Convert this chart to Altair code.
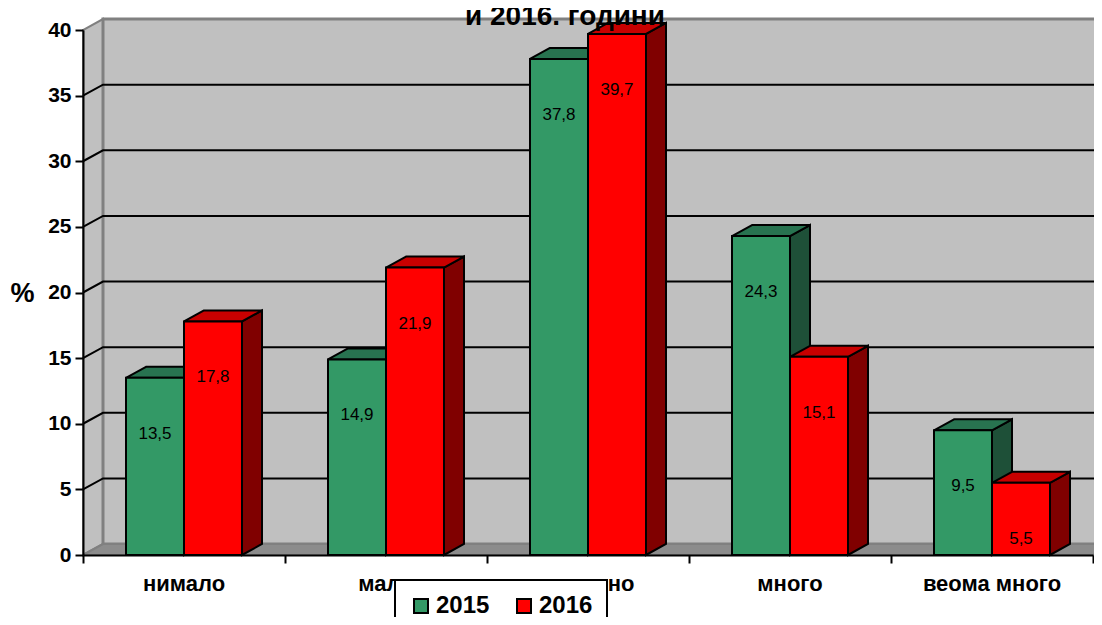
import altair as alt
import pandas as pd

# ---------------- data ----------------
categories = ["нимало", "мало", "умерено", "много", "веома много"]
years = ["2015", "2016"]
values_2015 = [13.5, 14.9, 37.8, 24.3, 9.5]
values_2016 = [17.8, 21.9, 39.7, 15.1, 5.5]
y_ticks = [0, 5, 10, 15, 20, 25, 30, 35, 40]
title_text = "и 2016. години"
y_title = "%"

# ---------------- style / layout ----------------
FONT = "Liberation Sans, Arial, sans-serif"
PLOT_W, PLOT_H = 1010, 525
N = len(categories)
Y_MAX = 40
px_x = PLOT_W / N
px_y = PLOT_H / Y_MAX
DEPTH_X = 20 / px_x          # 3D depth offset (x, in data units)
DEPTH_Y = 11 / px_y          # 3D depth offset (y, in data units)
BAR_W = 58 / px_x

FRONT = ["#339966", "#FF0000"]
SIDE = ["#1E5038", "#800000"]
TOP = ["#287350", "#C80000"]
WALL = "#C0C0C0"
WALL_EDGE = "#808080"
FLOOR = "#8C8C8C"

xs = alt.Scale(domain=[0, N], nice=False, zero=False)
ys = alt.Scale(domain=[0, Y_MAX], nice=False, zero=True)

x_axis = alt.Axis(values=list(range(N + 1)), labels=False, title=None, grid=False,
                  tickSize=8, tickWidth=2, tickColor="black",
                  domainColor="black", domainWidth=2, zindex=1)
y_axis = alt.Axis(values=y_ticks, title=y_title, titleAngle=0, titleX=-61, titleY=263,
                  titleAlign="center", titleBaseline="middle", titleFont=FONT,
                  titleFontSize=27, titleFontWeight="bold", titleColor="black",
                  labelFont=FONT, labelFontSize=21, labelFontWeight="bold",
                  labelColor="black", labelPadding=4, labelFlush=False,
                  tickSize=8, tickWidth=2, tickColor="black",
                  domainColor="black", domainWidth=2, grid=False, zindex=1)


def X(field):
    return alt.X(field, type="quantitative", scale=xs, axis=x_axis, stack=None)


def Y(field):
    return alt.Y(field, type="quantitative", scale=ys, axis=y_axis, stack=None)


# ---------------- walls, floor, gridlines ----------------
side_wall = pd.DataFrame([
    dict(x=0, y=0, y2=Y_MAX),
    dict(x=DEPTH_X, y=DEPTH_Y, y2=Y_MAX + DEPTH_Y),
])
back_wall = pd.DataFrame([dict(x=DEPTH_X, x2=N + DEPTH_X, y=DEPTH_Y, y2=Y_MAX + DEPTH_Y)])
floor = pd.DataFrame([
    dict(y=0, x=0, x2=N),
    dict(y=DEPTH_Y, x=DEPTH_X, x2=N + DEPTH_X),
])
grid_rows = []
for v in y_ticks[1:-1]:
    grid_rows += [dict(v=v, o=0, x=0, y=v),
                  dict(v=v, o=1, x=DEPTH_X, y=v + DEPTH_Y),
                  dict(v=v, o=2, x=N + DEPTH_X, y=v + DEPTH_Y)]
grid = pd.DataFrame(grid_rows)

layers = [
    alt.Chart(side_wall).mark_area(orient="vertical", fill=WALL, stroke=WALL_EDGE,
                                   strokeWidth=2).encode(x=X("x"), y=Y("y"), y2="y2"),
    alt.Chart(back_wall).mark_rect(fill=WALL, stroke=WALL_EDGE, strokeWidth=3).encode(
        x=X("x"), x2="x2", y=Y("y"), y2="y2"),
    alt.Chart(floor).mark_area(orient="horizontal", fill=FLOOR, stroke=WALL_EDGE,
                               strokeWidth=2).encode(y=Y("y"), x=X("x"), x2="x2"),
    alt.Chart(grid).mark_line(color="black", strokeWidth=2).encode(
        x=X("x"), y=Y("y"), detail="v:N", order="o:Q"),
]

# ---------------- 3D bars ----------------
legend = alt.Legend(title=None, orient="none", legendX=312, legendY=550,
                    direction="horizontal", fillColor="white", strokeColor="black",
                    padding=14, symbolType="square", symbolSize=196,
                    symbolStrokeColor="black", symbolStrokeWidth=2, symbolOpacity=1,
                    labelFont=FONT, labelFontSize=24, labelFontWeight="bold",
                    labelColor="black", labelOffset=3, columnPadding=22)
color = alt.Color("year:N", scale=alt.Scale(domain=years, range=FRONT), legend=legend)

label_rows = []
for s, (year, vals) in enumerate(zip(years, [values_2015, values_2016])):
    front_rows, side_rows, top_rows = [], [], []
    for i, v in enumerate(vals):
        c = i + 0.5
        x1 = c - BAR_W + s * BAR_W
        x2 = x1 + BAR_W
        key = f"{year}-{i}"
        front_rows.append(dict(year=year, key=key, x=x1, x2=x2, y=0, y2=v))
        side_rows += [dict(key=key, x=x2, y=0, y2=v),
                      dict(key=key, x=x2 + DEPTH_X, y=DEPTH_Y, y2=v + DEPTH_Y)]
        top_rows += [dict(key=key, y=v, x=x1, x2=x2),
                     dict(key=key, y=v + DEPTH_Y, x=x1 + DEPTH_X, x2=x2 + DEPTH_X)]
        label_rows.append(dict(x=(x1 + x2) / 2, y=v, text=f"{v:.1f}".replace(".", ",")))
    layers += [
        alt.Chart(pd.DataFrame(side_rows)).mark_area(
            orient="vertical", fill=SIDE[s], stroke="black", strokeWidth=2).encode(
            x=X("x"), y=Y("y"), y2="y2", detail="key:N"),
        alt.Chart(pd.DataFrame(top_rows)).mark_area(
            orient="horizontal", fill=TOP[s], stroke="black", strokeWidth=2).encode(
            y=Y("y"), x=X("x"), x2="x2", detail="key:N"),
        alt.Chart(pd.DataFrame(front_rows)).mark_rect(
            stroke="black", strokeWidth=2, opacity=1).encode(
            x=X("x"), x2="x2", y=Y("y"), y2="y2", color=color),
    ]

labels = pd.DataFrame(label_rows)
layers.append(
    alt.Chart(labels).mark_text(font=FONT, fontSize=17, color="black", dy=56,
                                baseline="middle", align="center").encode(
        x=X("x"), y=Y("y"), text="text:N"))

cat_df = pd.DataFrame(dict(cat=categories, xc=[i + 0.5 for i in range(N)]))
layers.append(
    alt.Chart(cat_df).mark_text(font=FONT, fontSize=22, fontWeight="bold", color="black",
                                baseline="middle", align="center").encode(
        x=X("xc"), y=alt.value(554), text="cat:N"))

title_df = pd.DataFrame(dict(t=[title_text]))
layers.append(
    alt.Chart(title_df).mark_text(font=FONT, fontSize=28, fontWeight="bold", color="black",
                                  baseline="middle", align="center").encode(
        x=alt.value(482), y=alt.value(-13), text="t:N"))

chart = alt.layer(*layers).properties(
    width=PLOT_W, height=PLOT_H,
    padding={"left": 75, "top": 22, "right": 1, "bottom": 62},
    autosize=alt.AutoSizeParams(type="none"),
    background="white",
).configure_view(stroke=None).configure_legend(strokeWidth=2)

chart.save("out.html", embed_options={"renderer": "svg", "actions": False})
